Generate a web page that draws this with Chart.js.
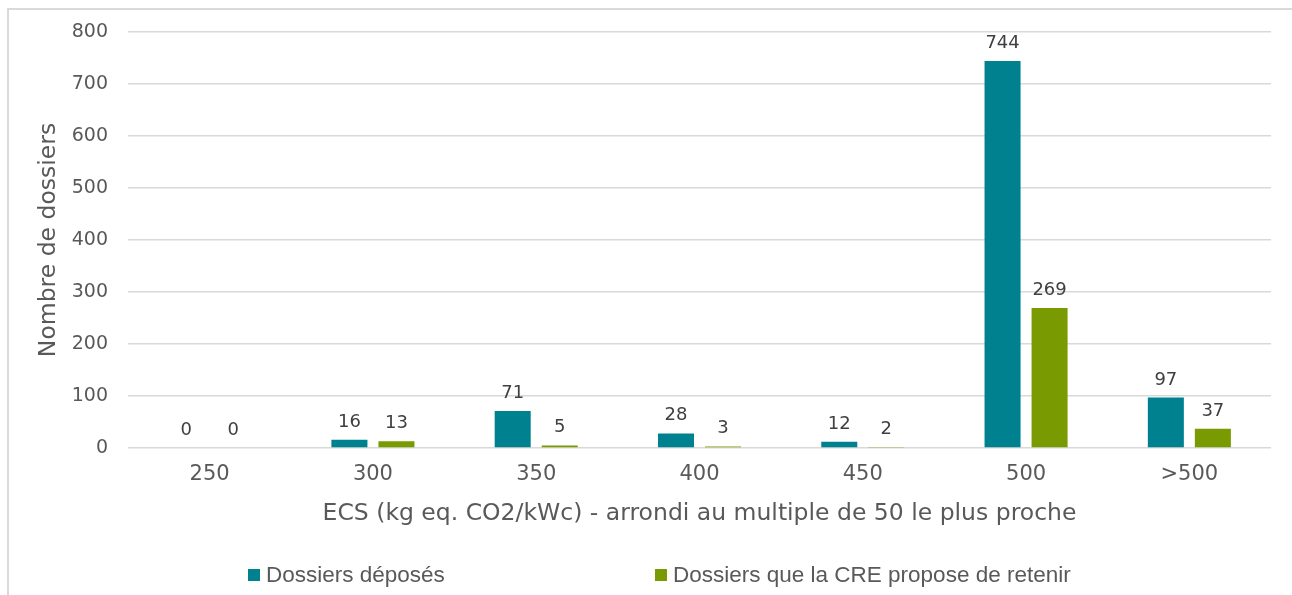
<!DOCTYPE html>
<html>
<head>
<meta charset="utf-8">
<script src="https://cdn.jsdelivr.net/npm/chart.js@4.4.1/dist/chart.umd.min.js"></script>
<style>
  html, body { margin: 0; padding: 0; background: #fff; }
  #wrap { position: relative; width: 1292px; height: 595px; overflow: hidden; }
  #frame { position: absolute; left: 7px; top: 8px; width: 1400px; height: 700px;
           border-left: 2px solid #d9d9d9; border-top: 2px solid #d9d9d9; pointer-events: none; }
  canvas { position: absolute; left: 0; top: 0; }
  .leg { position: absolute; top: 563px; height: 24px; display: flex; align-items: center;
         font-family: "Liberation Sans", sans-serif; font-size: 22.5px; color: #595959; white-space: nowrap; }
  .leg i { display: inline-block; width: 12px; height: 12px; margin-right: 6px; }
</style>
</head>
<body>
<div id="wrap">
  <canvas id="c" width="1292" height="595"></canvas>
  <div id="frame"></div>
  <div class="leg" style="left:248px"><i id="sw0"></i><span id="lg0"></span></div>
  <div class="leg" style="left:655px"><i id="sw1"></i><span id="lg1"></span></div>
</div>
<script>
const categories = ["250", "300", "350", "400", "450", "500", ">500"];
const seriesNames = ["Dossiers déposés", "Dossiers que la CRE propose de retenir"];
const deposes = [0, 16, 71, 28, 12, 744, 97];
const retenus = [0, 13, 5, 3, 2, 269, 37];
const seriesColors = ["#00818F", "#7A9A01"];
const xTitle = "ECS (kg eq. CO2/kWc) - arrondi au multiple de 50 le plus proche";
const yTitle = "Nombre de dossiers";

document.getElementById('sw0').style.background = seriesColors[0];
document.getElementById('sw1').style.background = seriesColors[1];
document.getElementById('lg0').textContent = seriesNames[0];
document.getElementById('lg1').textContent = seriesNames[1];

const FONT = "'DejaVu Sans', sans-serif";
const TXT = '#595959';

const valueLabels = {
  id: 'valueLabels',
  afterDatasetsDraw(chart) {
    const ctx = chart.ctx;
    ctx.save();
    ctx.font = "18px " + FONT;
    ctx.fillStyle = '#404040';
    ctx.textAlign = 'center';
    ctx.textBaseline = 'alphabetic';
    chart.data.datasets.forEach((ds, di) => {
      const meta = chart.getDatasetMeta(di);
      meta.data.forEach((el, i) => {
        ctx.fillText(String(ds.data[i]), el.x, el.y - 13);
      });
    });
    ctx.restore();
  }
};

new Chart(document.getElementById('c'), {
  type: 'bar',
  data: {
    labels: categories,
    datasets: [
      { label: seriesNames[0], data: deposes, backgroundColor: seriesColors[0],
        categoryPercentage: 0.576, barPercentage: 0.766 },
      { label: seriesNames[1], data: retenus, backgroundColor: seriesColors[1],
        categoryPercentage: 0.576, barPercentage: 0.766 }
    ]
  },
  options: {
    responsive: false,
    animation: false,
    layout: { padding: { left: 10, top: 32, right: 21, bottom: 55 } },
    plugins: { legend: { display: false }, tooltip: { enabled: false } },
    scales: {
      x: {
        grid: { display: false, drawTicks: false },
        border: { display: false },
        ticks: { color: TXT, font: { family: FONT, size: 21 }, padding: 14 },
        title: { display: true, text: xTitle, color: TXT, font: { family: FONT, size: 23.5 },
                 padding: { top: 0, bottom: 12 } },
        afterFit(s) { s.height = 92; }
      },
      y: {
        min: 0, max: 800,
        grid: { color: '#d9d9d9', lineWidth: 1.5, drawTicks: false },
        border: { display: false },
        ticks: { stepSize: 100, color: TXT, font: { family: FONT, size: 19 }, padding: 20 },
        title: { display: true, text: yTitle, color: TXT, font: { family: FONT, size: 23.5 },
                 padding: { top: 25, bottom: 0 } },
        afterFit(s) { s.width = 118; }
      }
    }
  },
  plugins: [valueLabels]
});
</script>
</body>
</html>
